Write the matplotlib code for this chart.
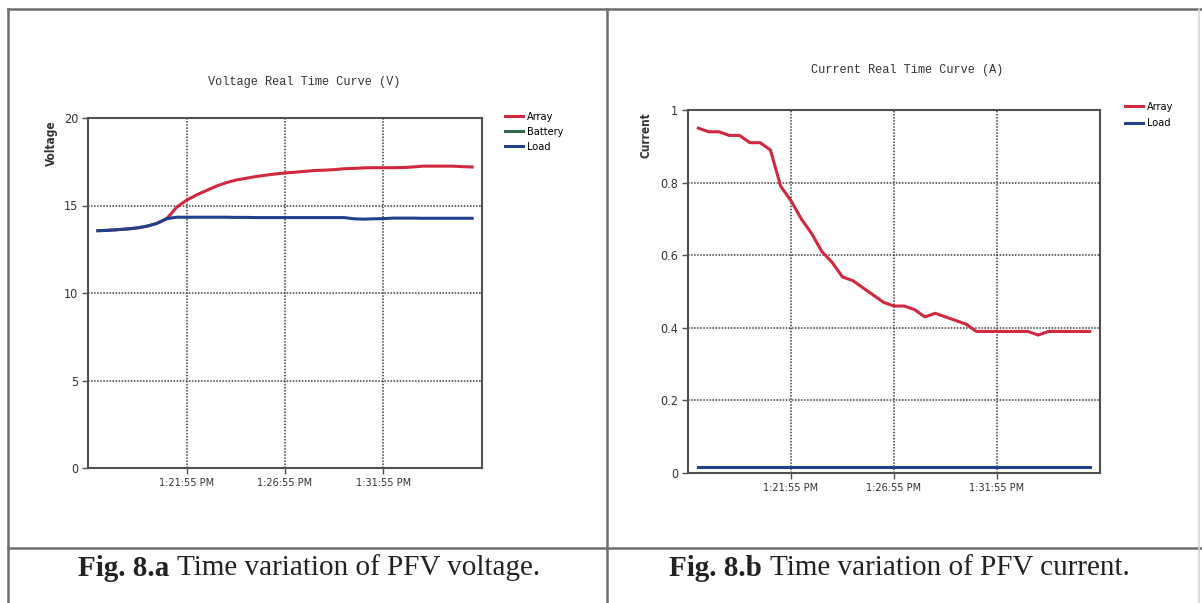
import matplotlib
matplotlib.use('Agg')
import matplotlib.pyplot as plt
from matplotlib.lines import Line2D
import pandas as pd

#======================= data ======================
start_time = "2015-01-01 13:17:25"   # first sample, one every 30 s
x_start = "2015-01-01 13:16:55"
x_end = "2015-01-01 13:36:55"

tick_times = ["2015-01-01 13:21:55", "2015-01-01 13:26:55", "2015-01-01 13:31:55"]
tick_labels = ["1:21:55 PM", "1:26:55 PM", "1:31:55 PM"]

array_voltage = [13.56, 13.58, 13.62, 13.66, 13.72, 13.82, 13.98, 14.25,
                 14.9, 15.3, 15.6, 15.85, 16.1, 16.3, 16.45, 16.55, 16.65, 16.73,
                 16.8, 16.86, 16.9, 16.95, 17.0, 17.02, 17.05, 17.1, 17.12, 17.15,
                 17.16, 17.16, 17.16, 17.17, 17.2, 17.25, 17.25, 17.25, 17.25, 17.22, 17.2]
battery_voltage = []   # only shown in the legend
load_voltage = [13.56, 13.58, 13.62, 13.66, 13.72, 13.82, 13.98, 14.25,
                14.33, 14.33, 14.33, 14.33, 14.33, 14.33, 14.32, 14.32, 14.31, 14.31,
                14.31, 14.31, 14.31, 14.31, 14.31, 14.31, 14.31, 14.31, 14.24, 14.22,
                14.24, 14.25, 14.28, 14.28, 14.28, 14.27, 14.27, 14.27, 14.27, 14.27, 14.27]

array_current = [0.95, 0.94, 0.94, 0.93, 0.93, 0.91, 0.91, 0.89, 0.79, 0.75,
                 0.70, 0.66, 0.61, 0.58, 0.54, 0.53, 0.51, 0.49, 0.47, 0.46,
                 0.46, 0.45, 0.43, 0.44, 0.43, 0.42, 0.41, 0.39, 0.39, 0.39,
                 0.39, 0.39, 0.39, 0.38, 0.39, 0.39, 0.39, 0.39, 0.39]
load_current = [0.016, 0.016, 0.016, 0.016, 0.016, 0.016, 0.016, 0.016, 0.016, 0.016,
                0.016, 0.016, 0.016, 0.016, 0.016, 0.016, 0.016, 0.016, 0.016, 0.016,
                0.016, 0.016, 0.016, 0.016, 0.016, 0.016, 0.016, 0.016, 0.016, 0.016,
                0.016, 0.016, 0.016, 0.016, 0.016, 0.016, 0.016, 0.016, 0.016]

volt_ticks = [0, 5, 10, 15, 20]
volt_labels = ["0", "5", "10", "15", "20"]
curr_ticks = [0, 0.2, 0.4, 0.6, 0.8, 1.0]
curr_labels = ["0", "0.2", "0.4", "0.6", "0.8", "1"]
#=========================================================================

RED = '#d0283c'
GREEN = '#2f6b4c'
BLUE = '#22418c'
GRID = '#3c3c3c'

SANS = dict(family='DejaVu Sans', stretch='condensed')
MONO = 'Liberation Mono'
SERIF = 'Liberation Serif'

W, H = 1202, 603

def fx(x):
    return x / W

def fy(y):
    return 1 - y / H

times = pd.date_range(start_time, periods=len(array_voltage), freq="30s")

fig = plt.figure(figsize=(W / 100, H / 100), dpi=100)
fig.patch.set_facecolor('white')


def setup(ax, yticks, ylabels, ylim):
    ax.set_xlim(pd.Timestamp(x_start), pd.Timestamp(x_end))
    ax.set_ylim(*ylim)
    ax.set_xticks(pd.to_datetime(tick_times))
    ax.set_xticklabels(tick_labels, fontsize=7.8, **SANS)
    ax.set_yticks(yticks)
    ax.set_yticklabels(ylabels, fontsize=9, **SANS)
    ax.grid(True, color=GRID, linestyle=(0, (1, 1)), linewidth=1.1, zorder=1)
    ax.set_axisbelow(True)
    for s in ax.spines.values():
        s.set_color('#505050')
        s.set_linewidth(1.5)
    ax.tick_params(direction='out', length=4, width=1, colors='#505050',
                   labelcolor='#333333', pad=3)


# ---- left: voltage  (axes box 88..482 x 118..468 px)
ax1 = fig.add_axes([fx(88), fy(468), fx(482) - fx(88), fy(118) - fy(468)])
ax1.plot(times, array_voltage, color=RED, lw=2.2, label='Array', zorder=3)
ax1.plot(times[:len(battery_voltage)], battery_voltage, color=GREEN, lw=2.2, label='Battery', zorder=3)
ax1.plot(times, load_voltage, color=BLUE, lw=2.2, label='Load', zorder=4)
setup(ax1, volt_ticks, volt_labels, (0, 20))
ax1.set_ylabel('Voltage', fontsize=8.5, fontweight='bold', color='#333333', **SANS)
ax1.yaxis.set_label_coords((58 - 88) / (482 - 88), (468 - 143) / (468 - 118))
fig.text(fx(304), fy(82), 'Voltage Real Time Curve (V)', family=MONO, fontsize=8.6,
         ha='center', va='center', color='#333333')
ax1.legend(loc='upper left', bbox_to_anchor=(fx(505), fy(112)), bbox_transform=fig.transFigure,
           frameon=False, handlelength=1.7, handletextpad=0.35, labelspacing=0.45,
           borderpad=0, borderaxespad=0, prop=dict(size=7.8, **SANS))

# ---- right: current  (axes box 688..1100 x 110..473 px)
ax2 = fig.add_axes([fx(688), fy(473), fx(1100) - fx(688), fy(110) - fy(473)])
ax2.plot(times, array_current, color=RED, lw=2.2, label='Array', zorder=3)
ax2.plot(times, load_current, color=BLUE, lw=2.2, label='Load', zorder=3)
setup(ax2, curr_ticks, curr_labels, (0, 1))
ax2.set_ylabel('Current', fontsize=8.5, fontweight='bold', color='#333333', **SANS)
ax2.yaxis.set_label_coords((653 - 688) / (1100 - 688), (473 - 135) / (473 - 110))
fig.text(fx(907), fy(70), 'Current Real Time Curve (A)', family=MONO, fontsize=8.6,
         ha='center', va='center', color='#333333')
ax2.legend(loc='upper left', bbox_to_anchor=(fx(1125), fy(102)), bbox_transform=fig.transFigure,
           frameon=False, handlelength=1.7, handletextpad=0.35, labelspacing=0.6,
           borderpad=0, borderaxespad=0, prop=dict(size=7.8, **SANS))

# ---- table borders
border = dict(color='#6e6e6e', linewidth=1.8, transform=fig.transFigure)
fig.add_artist(Line2D([fx(8), fx(1202)], [fy(9), fy(9)], **border))
fig.add_artist(Line2D([fx(8), fx(8)], [fy(9), fy(603)], **border))
fig.add_artist(Line2D([fx(607), fx(607)], [fy(9), fy(603)], **border))
fig.add_artist(Line2D([fx(8), fx(1202)], [fy(548), fy(548)], **border))
fig.add_artist(Line2D([fx(1199), fx(1199)], [fy(9), fy(603)], color='#d8d8d8',
                      linewidth=1.2, transform=fig.transFigure))

# ---- captions
fig.text(fx(169), fy(568), 'Fig. 8.a', family=SERIF, fontweight='bold', fontsize=21,
         ha='right', va='center', color='#222222')
fig.text(fx(177), fy(568), 'Time variation of PFV voltage.', family=SERIF, fontsize=21,
         ha='left', va='center', color='#222222')
fig.text(fx(762), fy(568), 'Fig. 8.b', family=SERIF, fontweight='bold', fontsize=21,
         ha='right', va='center', color='#222222')
fig.text(fx(770), fy(568), 'Time variation of PFV current.', family=SERIF, fontsize=21,
         ha='left', va='center', color='#222222')

fig.savefig('out.png', dpi=100)
